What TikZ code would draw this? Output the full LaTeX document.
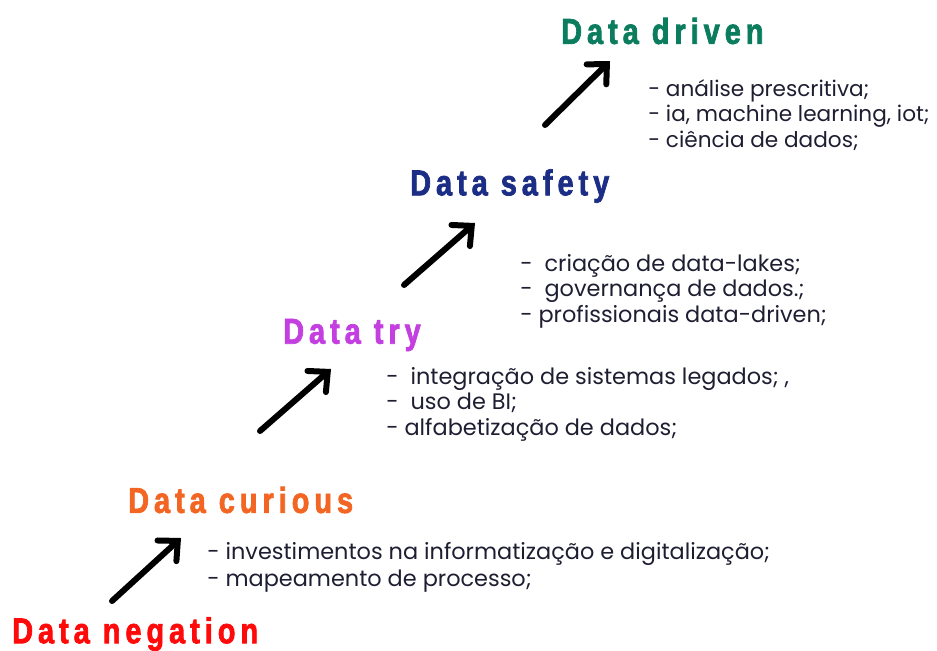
\documentclass[tikz,border=0pt]{standalone}
\usepackage{fontspec}
\setmainfont{Poppins}
\newfontfamily\titlefont[FakeStretch=0.8,LetterSpace=14,FakeBold=2]{Liberation Sans}
\usepackage{tikz}
\usetikzlibrary{arrows.meta}

\definecolor{negred}{HTML}{FF0A0A}
\definecolor{curorange}{HTML}{F26522}
\definecolor{trypurple}{HTML}{C43FE0}
\definecolor{safenavy}{HTML}{1C2D86}
\definecolor{drivgreen}{HTML}{0B7D5E}
\definecolor{itemtext}{HTML}{1E1E32}

\begin{document}
\begin{tikzpicture}
	[x=0.75pt, y=-0.75pt,
	 stage/.style = {font=\titlefont\bfseries\fontsize{27}{27}\selectfont, inner sep=0pt, anchor=west},
	 items/.style = {font=\fontsize{16.8}{18.8}\selectfont, text=itemtext, align=left, inner sep=0pt, anchor=base west},
	 step arrow/.style = {line width=4.5pt, line cap=round, -{Straight Barb[length=11pt, width=21pt, line cap=round]}}]
	\useasboundingbox (0,0) rectangle (937,650);
	% stages
	\node[stage, text=negred] (neg) at (12,634) {Data negation};
	\node[stage, text=curorange] (cur) at (128,500) {Data curious};
	\node[stage, text=trypurple] (try) at (283,335) {Data try};
	\node[stage, text=safenavy] (safe) at (410,186) {Data safety};
	\node[stage, text=drivgreen] (driv) at (561,31) {Data driven};
	% arrow ends
	\coordinate (a1) at (112,601);
	\coordinate (b1) at (181,538);
	\coordinate (a2) at (260,431);
	\coordinate (b2) at (331,369);
	\coordinate (a3) at (404,285);
	\coordinate (b3) at (475,223);
	\coordinate (a4) at (545,125);
	\coordinate (b4) at (610,61);
	\draw[step arrow] (a1) -- (b1);
	\draw[step arrow] (a2) -- (b2);
	\draw[step arrow] (a3) -- (b3);
	\draw[step arrow] (a4) -- (b4);
	% items (anchored at the baseline of the last line)
	\node[items, font=\fontsize{16.8}{20.2}\selectfont] (curitems) at (207,586) {- investimentos na informatização e digitalização;\\- mapeamento de processo;};
	\node[items] (tryitems) at (386,435) {-\ \ integração de sistemas legados; ,\\-\ \ uso de BI;\\- alfabetização de dados;};
	\node[items] (safeitems) at (520,322) {-\ \ criação de data-lakes;\\-\ \ governança de dados.;\\- profissionais data-driven;};
	\node[items, font=\fontsize{16.2}{18.8}\selectfont] (drivitems) at (648,147) {- análise prescritiva;\\- ia, machine learning, iot;\\- ciência de dados;};
\end{tikzpicture}
\end{document}
